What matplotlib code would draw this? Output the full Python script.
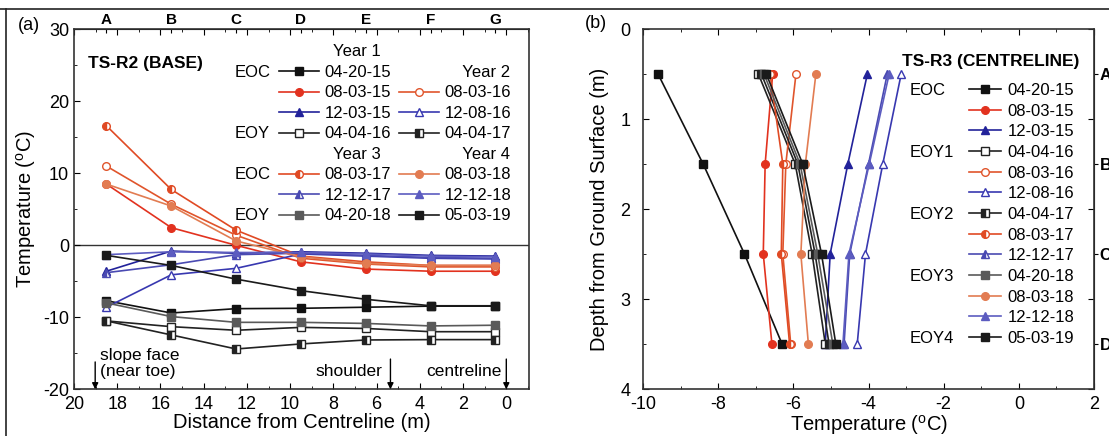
import numpy as np
import matplotlib.pyplot as plt
from matplotlib.lines import Line2D
from matplotlib.ticker import MultipleLocator

plt.rcParams['font.family'] = ['Liberation Sans', 'DejaVu Sans']
plt.rcParams['mathtext.default'] = 'regular'
plt.rcParams['axes.unicode_minus'] = False

# =============================================================================
# DATA
# =============================================================================

# (a) TS-R2 (BASE): temperature vs distance from centreline
dist = [18.5, 15.5, 12.5, 9.5, 6.5, 3.5, 0.5]
pos_letters = ['A', 'B', 'C', 'D', 'E', 'F', 'G']

a_04_20_15 = [-7.7, -9.4, -8.8, -8.75, -8.6, -8.45, -8.45]
a_08_03_15 = [8.5, 2.45, 0.0, -2.3, -3.3, -3.6, -3.6]
a_12_03_15 = [-3.6, -0.8, -1.1, -0.9, -1.1, -1.4, -1.5]
a_04_04_16 = [-10.5, -11.3, -11.8, -11.4, -11.55, -12.0, -12.0]
a_08_03_16 = [11.0, 5.7, 1.4, -1.8, -2.6, -3.0, -3.0]
a_12_08_16 = [-8.6, -4.1, -3.2, -1.2, -1.5, -1.8, -1.9]
a_04_04_17 = [-10.5, -12.45, -14.4, -13.7, -13.15, -13.1, -13.1]
a_08_03_17 = [16.6, 7.75, 2.1, -1.5, -2.3, -2.8, -2.8]
a_12_12_17 = [-3.8, -2.7, -1.3, -1.1, -1.4, -1.7, -1.8]
a_04_20_18 = [-8.0, -9.9, -10.7, -10.7, -10.85, -11.2, -11.1]
a_08_03_18 = [8.5, 5.45, 0.6, -1.6, -2.5, -2.8, -2.8]
a_12_12_18 = [-1.3, -0.9, -1.0, -1.0, -1.2, -1.5, -1.6]
a_05_03_19 = [-1.4, -2.8, -4.7, -6.3, -7.5, -8.4, -8.4]

# (b) TS-R3 (CENTRELINE): temperature vs depth
depth = [0.5, 1.5, 2.5, 3.5]
depth_letters = ['A', 'B', 'C', 'D']

b_04_20_15 = [-9.6, -8.4, -7.3, -6.3]
b_08_03_15 = [-6.55, -6.75, -6.8, -6.57]
b_12_03_15 = [-4.03, -4.55, -5.02, -5.15]
b_04_04_16 = [-6.93, -5.95, -5.5, -5.15]
b_08_03_16 = [-5.93, -6.2, -6.28, -6.07]
b_12_08_16 = [-3.13, -3.62, -4.08, -4.3]
b_04_04_17 = [-6.85, -5.88, -5.42, -5.05]
b_08_03_17 = [-6.62, -6.28, -6.32, -6.1]
b_12_12_17 = [-3.5, -4.0, -4.5, -4.65]
b_04_20_18 = [-6.78, -5.82, -5.35, -4.95]
b_08_03_18 = [-5.4, -5.68, -5.8, -5.6]
b_12_12_18 = [-3.45, -3.98, -4.52, -4.68]
b_05_03_19 = [-6.72, -5.75, -5.25, -4.87]

dates = ['04-20-15', '08-03-15', '12-03-15', '04-04-16', '08-03-16', '12-08-16',
         '04-04-17', '08-03-17', '12-12-17', '04-20-18', '08-03-18', '12-12-18',
         '05-03-19']
a_vals = [a_04_20_15, a_08_03_15, a_12_03_15, a_04_04_16, a_08_03_16, a_12_08_16,
          a_04_04_17, a_08_03_17, a_12_12_17, a_04_20_18, a_08_03_18, a_12_12_18,
          a_05_03_19]
b_vals = [b_04_20_15, b_08_03_15, b_12_03_15, b_04_04_16, b_08_03_16, b_12_08_16,
          b_04_04_17, b_08_03_17, b_12_12_17, b_04_20_18, b_08_03_18, b_12_12_18,
          b_05_03_19]

# estilo por fecha: (color, marcador, relleno)
estilos = {
    '04-20-15': ('#111111', 's', 'full'),
    '08-03-15': ('#e2321f', 'o', 'full'),
    '12-03-15': ('#22229a', '^', 'full'),
    '04-04-16': ('#222222', 's', 'none'),
    '08-03-16': ('#e0552c', 'o', 'none'),
    '12-08-16': ('#3838b0', '^', 'none'),
    '04-04-17': ('#222222', 's', 'left'),
    '08-03-17': ('#e04a24', 'o', 'left'),
    '12-12-17': ('#4a4ab2', '^', 'left'),
    '04-20-18': ('#5a5a5a', 's', 'full'),
    '08-03-18': ('#e27c52', 'o', 'full'),
    '12-12-18': ('#5c5cc0', '^', 'full'),
    '05-03-19': ('#1a1a1a', 's', 'full'),
}

# =============================================================================
# FIGURA
# =============================================================================

fig = plt.figure(figsize=(11.09, 4.36), dpi=100)
ax_a = fig.add_axes([74 / 1109, 1 - 389.3 / 436, 455 / 1109, 360 / 436])
ax_b = fig.add_axes([643 / 1109, 1 - 389 / 436, 451 / 1109, 360 / 436])


def dibujar(ax, x, y, d):
    c, m, fs = estilos[d]
    kw = dict(color=c, marker=m, markersize=5.5, lw=1.2, mew=1.0,
              markeredgecolor=c, label=d)
    if fs == 'none':
        kw.update(markerfacecolor='white')
    elif fs == 'left':
        kw.update(fillstyle='left', markerfacecoloralt='white')
    return ax.plot(x, y, **kw)[0]


vacio = Line2D([], [], linestyle='none', marker='none')

# ---------------------------------------------------------
# (a)
# ---------------------------------------------------------
h_a = {}
for d, v in zip(dates, a_vals):
    h_a[d] = dibujar(ax_a, dist, v, d)
ax_a.axhline(0, color='#333333', lw=1.0, zorder=0)

ax_a.set_xlim(20, -1.05)
ax_a.set_ylim(-20, 30)
ax_a.xaxis.set_major_locator(MultipleLocator(2))
ax_a.xaxis.set_minor_locator(MultipleLocator(1))
ax_a.yaxis.set_major_locator(MultipleLocator(10))
ax_a.yaxis.set_minor_locator(MultipleLocator(5))
ax_a.tick_params(which='both', direction='in', top=True, labelsize=13)
ax_a.tick_params(which='major', length=4)
ax_a.tick_params(which='minor', length=2.5)
ax_a.tick_params(axis='x', pad=5)
ax_a.set_xlabel('Distance from Centreline (m)', fontsize=14.5, labelpad=0)
ax_a.set_ylabel('Temperature ($^{o}$C)', fontsize=14.5, labelpad=4)

top = ax_a.secondary_xaxis('top')
top.set_xticks(dist)
top.set_xticklabels(pos_letters, fontweight='bold', fontsize=11)
top.tick_params(direction='in', length=3, pad=2)

ax_a.text(0.03, 0.906, 'TS-R2 (BASE)', transform=ax_a.transAxes,
          fontsize=12.5, fontweight='bold', va='center', ha='left')

# anotaciones con flechas
ax_a.text(18.78, -16.45, 'slope face\n(near toe)', fontsize=12.5,
          ha='left', va='center', linespacing=1.05)
for xa, y0 in [(19.02, -16.2), (5.36, -15.8), (0.0, -15.8)]:
    ax_a.annotate('', xy=(xa, -20), xytext=(xa, y0),
                  arrowprops=dict(arrowstyle='-|>', color='black', lw=1.0,
                                  mutation_scale=9, shrinkA=0, shrinkB=0))
ax_a.text(5.75, -17.55, 'shoulder', fontsize=12.5, ha='right', va='center')
ax_a.text(0.22, -17.55, 'centreline', fontsize=12.5, ha='right', va='center')

col0 = [vacio] * 9
lab0 = ['', 'EOC', '', '', 'EOY', '', 'EOC', '', 'EOY']
col1 = [vacio, h_a['04-20-15'], h_a['08-03-15'], h_a['12-03-15'], h_a['04-04-16'],
        vacio, h_a['08-03-17'], h_a['12-12-17'], h_a['04-20-18']]
lab1 = ['  Year 1', '04-20-15', '08-03-15', '12-03-15', '04-04-16',
        '  Year 3', '08-03-17', '12-12-17', '04-20-18']
col2 = [vacio, vacio, h_a['08-03-16'], h_a['12-08-16'], h_a['04-04-17'],
        vacio, h_a['08-03-18'], h_a['12-12-18'], h_a['05-03-19']]
lab2 = ['', '    Year 2', '08-03-16', '12-08-16', '04-04-17',
        '    Year 4', '08-03-18', '12-12-18', '05-03-19']
leg_a = ax_a.legend(col0 + col1 + col2, lab0 + lab1 + lab2, ncol=3,
                    loc='upper left', bbox_to_anchor=(0.255, 0.958),
                    frameon=False, fontsize=12, labelspacing=0.33,
                    handlelength=2.4, handletextpad=0.3, columnspacing=0.5,
                    borderpad=0, borderaxespad=0)

# ---------------------------------------------------------
# (b)
# ---------------------------------------------------------
h_b = {}
for d, v in zip(dates, b_vals):
    h_b[d] = dibujar(ax_b, v, depth, d)

ax_b.set_xlim(-10, 2)
ax_b.set_ylim(4, 0)
ax_b.xaxis.set_major_locator(MultipleLocator(2))
ax_b.xaxis.set_minor_locator(MultipleLocator(1))
ax_b.yaxis.set_major_locator(MultipleLocator(1))
ax_b.yaxis.set_minor_locator(MultipleLocator(0.5))
ax_b.tick_params(which='both', direction='in', top=True, right=True, labelsize=13)
ax_b.tick_params(which='major', length=4)
ax_b.tick_params(which='minor', length=2.5)
ax_b.tick_params(axis='y', which='minor', right=False)
ax_b.tick_params(axis='y', pad=9)
ax_b.tick_params(axis='x', pad=5)
ax_b.set_xlabel('Temperature ($^{o}$C)', fontsize=14.5, labelpad=0)
ax_b.set_ylabel('Depth from Ground Surface (m)', fontsize=14.5, labelpad=8)

der = ax_b.secondary_yaxis('right')
der.set_yticks(depth)
der.set_yticklabels(depth_letters, fontweight='bold', fontsize=12)
der.tick_params(direction='out', length=3, pad=1)

ax_b.text(0.967, 0.909, 'TS-R3 (CENTRELINE)', transform=ax_b.transAxes,
          fontsize=12.5, fontweight='bold', va='center', ha='right')

grupos = ['EOC', '', '', 'EOY1', '', '', 'EOY2', '', '', 'EOY3', '', '', 'EOY4']
leg_b = ax_b.legend([vacio] * 13 + [h_b[d] for d in dates], grupos + dates,
                    ncol=2, loc='upper right', bbox_to_anchor=(0.956, 0.85),
                    frameon=False, fontsize=12, labelspacing=0.34,
                    handlelength=1.9, handletextpad=0.4, columnspacing=0.9,
                    borderpad=0, borderaxespad=0)

for ax in (ax_a, ax_b):
    for s in ax.spines.values():
        s.set_color('#333333')
        s.set_linewidth(1.2)

fig.text(18 / 1109, 1 - 25 / 436, '(a)', fontsize=13, va='center', ha='left')
fig.text(585 / 1109, 1 - 23 / 436, '(b)', fontsize=13, va='center', ha='left')

# marco exterior (arriba e izquierda)
fig.add_artist(Line2D([0, 1], [1 - 9 / 436, 1 - 9 / 436], color='#222222', lw=1.2))
fig.add_artist(Line2D([6 / 1109, 6 / 1109], [0, 1 - 9 / 436], color='#222222', lw=1.2))

fig.savefig('out.png', dpi=100)
